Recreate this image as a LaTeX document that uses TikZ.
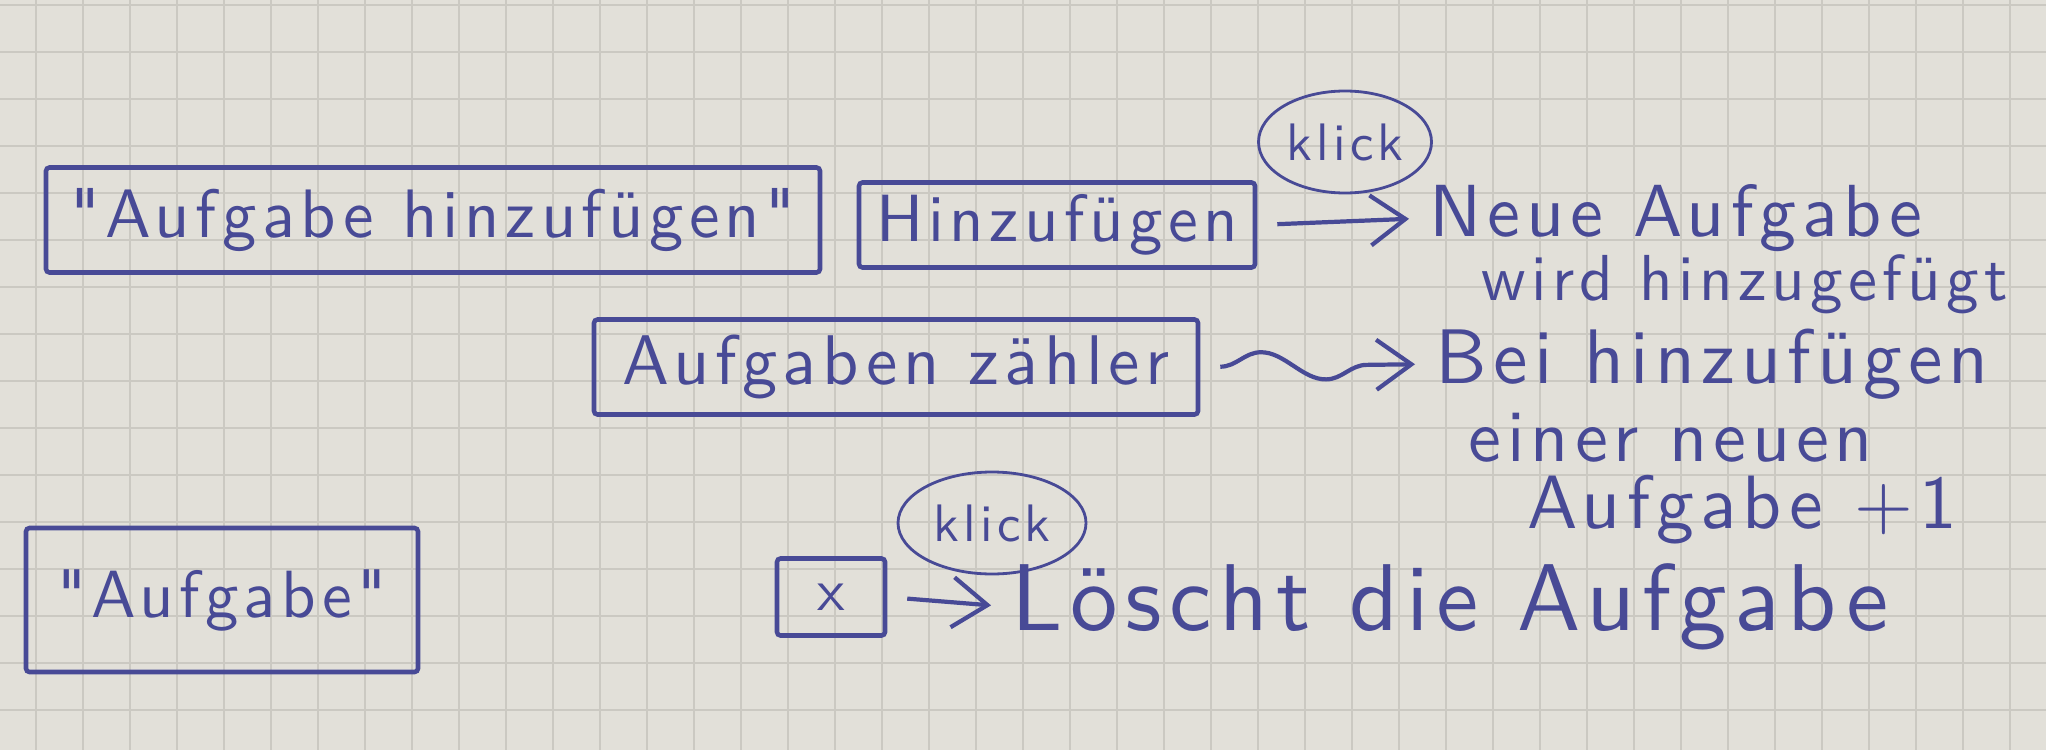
\documentclass[tikz,border=0pt]{standalone}
\usepackage{fontspec}
\newfontfamily\handfont{lmsans10-regular.otf}[LetterSpace=8]
\usetikzlibrary{positioning,arrows.meta,decorations.pathmorphing,shapes.geometric}
\definecolor{ink}{RGB}{72,74,150}
\definecolor{paper}{RGB}{226,224,217}
\definecolor{gridline}{RGB}{203,201,194}
\newcommand\handsize[1]{\handfont\fontsize{#1}{#1}\selectfont}
\begin{document}
\begin{tikzpicture}[x=0.1mm,y=-0.1mm,
  hand/.style={ink,font=\handsize{21},inner sep=0pt},
  uibox/.style={hand,draw,line width=1.3pt,rounded corners=1pt},
  klick/.style={ink,draw,ellipse,line width=0.8pt,inner sep=0pt,font=\handsize{15}},
  pen/.style={ink,line width=1.2pt,shorten <=2mm,shorten >=2mm,-{Straight Barb[length=3.5mm,width=5mm,line width=1.2pt]}}]
\useasboundingbox (0,0) rectangle (2046,750);
\fill[paper] (0,0) rectangle (2046,750);
\foreach \gx in {36,83,...,2046} \draw[gridline,line width=0.5pt] (\gx,0)--(\gx,750);
\foreach \gy in {5,52,...,750} \draw[gridline,line width=0.5pt] (0,\gy)--(2046,\gy);

% top row
\node[uibox,minimum width=77.4mm,minimum height=10.5mm,font=\handsize{19.5}] (addtitle) at (433,220) {"Aufgabe hinzufügen"};
\node[uibox,minimum width=39.6mm,minimum height=8.5mm,font=\handsize{19}] (addbtn) at (1057,225) {Hinzufügen};
\node[klick,minimum width=17.3mm,minimum height=10.2mm] (addklick) at (1345,142) {klick};
\node[hand,anchor=west,font=\handsize{21}] (newtask) at (1429,218) {Neue Aufgabe};
\node[hand,anchor=west,font=\handsize{18.5}] (newtask2) at (1481,284) {wird hinzugefügt};
\draw[pen] (addbtn.east) -- (newtask.west);

% counter
\node[uibox,minimum width=60.4mm,minimum height=9.5mm,font=\handsize{20}] (counter) at (896,367) {Aufgaben zähler};
\node[hand,anchor=west,font=\handsize{22}] (rule1) at (1435,364) {Bei hinzufügen};
\node[hand,anchor=west,font=\handsize{21}] (rule2) at (1468,438) {einer neuen};
\node[hand,anchor=west,font=\handsize{21.5}] (rule3) at (1527,510) {Aufgabe +1};
\draw[pen,decorate,decoration={snake,segment length=13mm,amplitude=1.4mm,pre length=2mm,post length=5mm}] (counter.east) -- (rule1.west);

% task
\node[uibox,minimum width=39.2mm,minimum height=14.4mm,font=\handsize{19}] (task) at (222,600) {"Aufgabe"};
\node[uibox,minimum width=10.8mm,minimum height=7.7mm,font=\handsize{17}] (delbtn) at (831,597) {x};
\node[klick,minimum width=18.8mm,minimum height=10.2mm] (delklick) at (992,523) {klick};
\node[hand,anchor=west,font=\handsize{27}] (deltext) at (1011,607) {Löscht die Aufgabe};
\draw[pen] (delbtn.east) -- (deltext.west);
\end{tikzpicture}
\end{document}
